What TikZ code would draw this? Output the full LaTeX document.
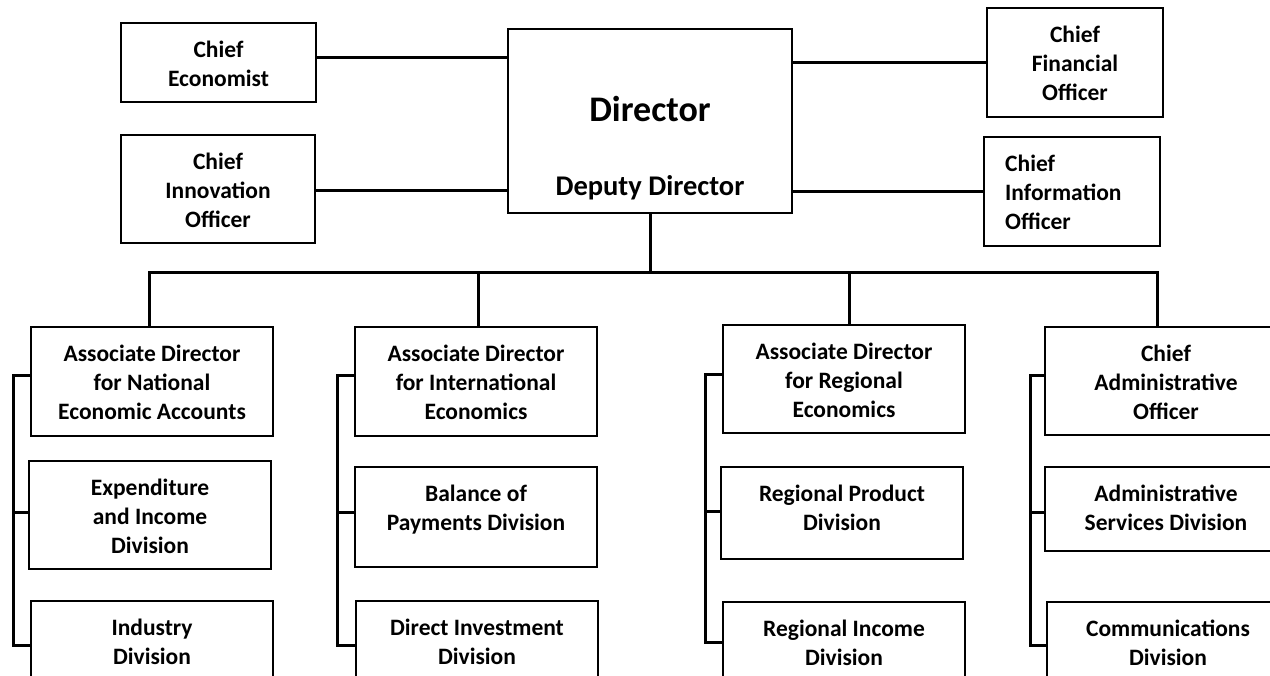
\documentclass[tikz,border=0pt]{standalone}
\usepackage{fontspec}
\setmainfont{Carlito}
\tikzset{
  box/.style={draw=black, line width=2.3pt, fill=white, inner sep=0pt},
  txt/.style={inner sep=0pt, align=center, font=\fontsize{23.5}{29}\selectfont\bfseries},
  conn/.style={draw=black, line width=3pt, line join=miter, line cap=rect}
}
\newcommand\obox[6]{%
  \node[box, minimum width={#4-#2}, minimum height={#5-#3}] (#1) at ({(#2+#4)/2},{(#3+#5)/2}) {};
  \node[txt, anchor=north] (#1t) at ({(#2+#4)/2},{#3+14.6}) {\rule{0pt}{20pt}#6};}
\begin{document}
\begin{tikzpicture}[x=1pt,y=-1pt]
\useasboundingbox (0,0) rectangle (1270,676);
\clip (0,0) rectangle (1270,676);
\fill[white] (0,0) rectangle (1270,676);
% top level
\obox{ce}{121}{23}{316}{102}{Chief\\Economist}
\obox{cin}{121}{135}{315}{243}{Chief\\Innovation\\Officer}
\obox{cfo}{987}{8}{1163}{117}{Chief\\Financial\\Officer}
\node[box, minimum width=176, minimum height=109] (cio) at (1072,191.5) {};
\node[txt, align=left, anchor=north west] (ciot) at (1005,151.6) {\rule{0pt}{20pt}Chief\\Information\\Officer};
\node[box, minimum width=284, minimum height=184] (dir) at (650,121) {};
\node[inner sep=0pt, anchor=base, font=\fontsize{36}{40}\selectfont\bfseries] (dirt) at (650,122) {Director};
\node[inner sep=0pt, anchor=base, font=\fontsize{28.5}{32}\selectfont\bfseries] (dept) at (650,196) {Deputy Director};
% connectors to staff
\draw[conn] ([yshift=4.5pt]ce.east) -- ([yshift=4.5pt]ce.east -| dir.west);
\draw[conn] ([yshift=-2pt]cin.east) -- ([yshift=-2pt]cin.east -| dir.west);
\draw[conn] (cfo.west) -- (cfo.west -| dir.east);
\draw[conn] (cio.west) -- (cio.west -| dir.east);
% bottom row
\obox{a1}{31}{327}{273}{436}{Associate Director\\for National\\Economic Accounts}
\obox{e1}{29}{461}{271}{569}{Expenditure\\and Income\\Division}
\obox{i1}{31}{601}{273}{690}{Industry\\Division}
\obox{a2}{355}{327}{597}{436}{Associate Director\\for International\\Economics}
\obox{p2}{355}{467}{597}{567}{Balance of\\Payments Division}
\obox{d2}{356}{601}{598}{690}{Direct Investment\\Division}
\obox{a3}{723}{325}{965}{433}{Associate Director\\for Regional\\Economics}
\obox{r3}{721}{467}{963}{559}{Regional Product\\Division}
\obox{ri3}{723}{602}{965}{690}{Regional Income\\Division}
\obox{a4}{1045}{327}{1287}{435}{Chief\\Administrative\\Officer}
\obox{s4}{1045}{467}{1287}{551}{Administrative\\Services Division}
\obox{c4}{1047}{602}{1289}{690}{Communications\\Division}
% bus
\coordinate (bus1) at (149,273);
\coordinate (bus2) at (478,273);
\coordinate (bus3) at (849,273);
\coordinate (bus4) at (1157,273);
\draw[conn] (dir.south) -- (dir.south |- bus1);
\draw[conn] (bus1) -- (bus4);
\draw[conn] (bus1) -- (bus1 |- a1.north);
\draw[conn] (bus2) -- (bus2 |- a2.north);
\draw[conn] (bus3) -- (bus3 |- a3.north);
\draw[conn] (bus4) -- (bus4 |- a4.north);
% brackets
\draw[conn] (a1.west |- 0,376) -- (13,376) -- (13,645) -- (i1.west |- 0,645);
\draw[conn] (13,512) -- (e1.west |- 0,512);
\draw[conn] (a2.west |- 0,376) -- (337,376) -- (337,645) -- (d2.west |- 0,645);
\draw[conn] (337,512) -- (p2.west |- 0,512);
\draw[conn] (a3.west |- 0,375) -- (705,375) -- (705,642) -- (ri3.west |- 0,642);
\draw[conn] (705,511) -- (r3.west |- 0,511);
\draw[conn] (a4.west |- 0,376) -- (1030,376) -- (1030,645) -- (c4.west |- 0,645);
\draw[conn] (1030,512) -- (s4.west |- 0,512);
\end{tikzpicture}
\end{document}
